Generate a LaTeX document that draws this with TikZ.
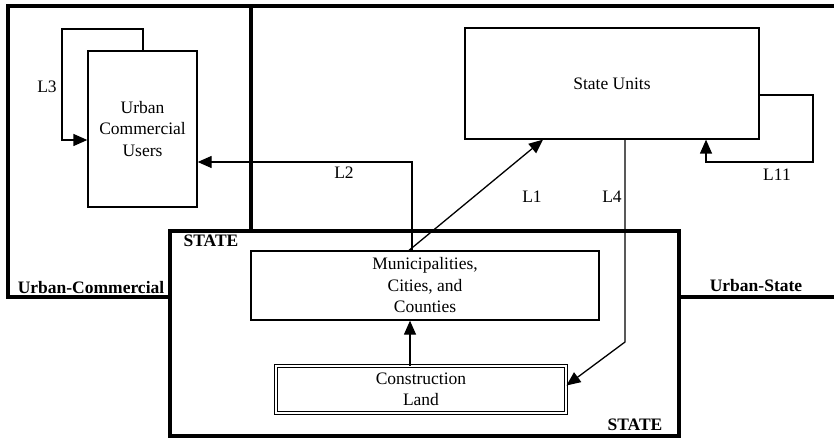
\documentclass[tikz,border=0pt]{standalone}
\usepackage{fontspec}
\setmainfont{Liberation Serif}
\usetikzlibrary{arrows.meta}
\usetikzlibrary{positioning}

\begin{document}
\begin{tikzpicture}[x=1pt,y=-1pt,>={Triangle[length=14pt,width=12pt]},
	every node/.style={font=\fontsize{17.5}{21.5}\selectfont},
	unit box/.style={draw,line width=1.3pt,align=center,inner sep=0pt},
	link/.style={->,line width=1.3pt},
	frame/.style={line width=3.5pt},
	region label/.style={font=\fontsize{17.5}{21.5}\selectfont\bfseries}]
	
	\useasboundingbox (0,0) rectangle (834,438);
	
	% regions
	\draw[frame] (834,6) -- (8,6) -- (8,297) -- (170,297);
	\draw[frame] (251,6) -- (251,231);
	\draw[frame] (170,231) rectangle (679,436);
	\draw[frame] (679,297) -- (834,297);
	
	\node[region label] (ucname) at (91,288) {Urban-Commercial};
	\node[region label] (usname) at (756,286) {Urban-State};
	\node[region label] (statetop) at (211,241) {STATE};
	\node[region label] (statebot) at (635,425) {STATE};
	
	% boxes
	\node[unit box, minimum width=109pt, minimum height=156pt] (users) at (142.5,129) {Urban\\Commercial\\Users};
	\node[unit box, minimum width=294pt, minimum height=111pt] (units) at (612,83.5) {State Units};
	\node[unit box, minimum width=348pt, minimum height=69pt] (muni) at (425,285.5) {Municipalities,\\Cities, and\\Counties};
	\node[unit box, double, double distance=2.2pt, line width=0.9pt, minimum width=290pt, minimum height=47pt] (land) at (421,389.5) {Construction\\Land};
	
	\coordinate (l3top) at (143,29);
	\coordinate (l3left) at (62,140);
	\coordinate (l2bend) at (412,162);
	\coordinate (l4bend) at (625,342);
	\coordinate (l11a) at (813,95);
	\coordinate (l11b) at (706,162);
	
	% links
	\draw[link] (users.north -| l3top) -- (l3top) -- (l3top -| l3left) -- (l3left) -- (l3left -| users.west);
	\draw[link] (muni.north -| l2bend) -- (l2bend) -- (l2bend -| users.east);
	\draw[link] ([xshift=-16pt]muni.north) -- ([xshift=-69pt]units.south);
	\draw[link] (units.south -| l4bend) -- (l4bend) -- ([yshift=4pt]land.east);
	\draw[link] (units.east |- l11a) -- (l11a) |- (l11b) -- (l11b |- units.south);
	\draw[link] ([xshift=-11pt]land.north) -- ([xshift=-11pt]land.north |- muni.south);
	
	\node (l1) at (532,197) {L1};
	\node (l2) at (344,173) {L2};
	\node (l3) at (47,87) {L3};
	\node (l4) at (612,197) {L4};
	\node (l11) at (777,175) {L11};
\end{tikzpicture}
\end{document}
